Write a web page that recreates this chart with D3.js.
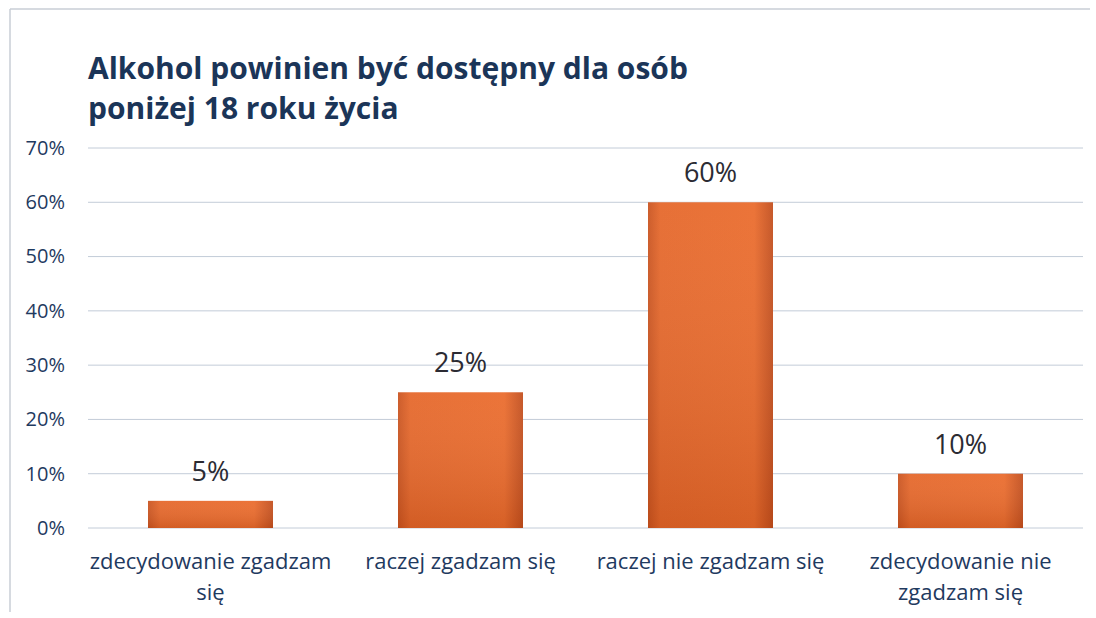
<!DOCTYPE html>
<meta charset="utf-8">
<style>
    body { margin: 0; background: #fff; }
    .grid line { stroke: #c3ccd8; stroke-width: 1; }
    .axis text { fill: #1f3a5f; font-family: "Open Sans", sans-serif; font-size: 20px; }
    .cat { fill: #1f3a5f; font-family: "Open Sans", sans-serif; font-size: 22px; }
    .val { fill: #2b2b33; font-family: "Open Sans", sans-serif; font-size: 27px; }
    .title { fill: #1b3558; font-family: "Open Sans", sans-serif; font-size: 30px; font-weight: bold; }
</style>
<body></body>
<script src="https://d3js.org/d3.v7.min.js"></script>
<script>
    // data
    var categories = ["zdecydowanie zgadzam się", "raczej zgadzam się", "raczej nie zgadzam się", "zdecydowanie nie zgadzam się"];
    var catLines = [["zdecydowanie zgadzam", "się"], ["raczej zgadzam się"], ["raczej nie zgadzam się"], ["zdecydowanie nie", "zgadzam się"]];
    var values = [5, 25, 60, 10];
    var yTicks = [0, 10, 20, 30, 40, 50, 60, 70];
    var titleLines = ["Alkohol powinien być dostępny dla osób", "poniżej 18 roku życia"];

    var W = 1096, H = 618;
    var margin = {top: 148, right: 13, bottom: 90, left: 88};
    var width = W - margin.left - margin.right,
        height = H - margin.top - margin.bottom;

    var svg = d3.select("body").append("svg")
        .attr("width", W)
        .attr("height", H);

    var defs = svg.append("defs");
    var grad = defs.append("linearGradient").attr("id", "barGrad")
        .attr("x1", 0).attr("y1", 0).attr("x2", 1).attr("y2", 0);
    grad.append("stop").attr("offset", "0%").attr("stop-color", "#c9531f");
    grad.append("stop").attr("offset", "10%").attr("stop-color", "#e5672a");
    grad.append("stop").attr("offset", "85%").attr("stop-color", "#ea6b2c");
    grad.append("stop").attr("offset", "100%").attr("stop-color", "#c24e1d");
    var shade = defs.append("linearGradient").attr("id", "barShade")
        .attr("x1", 0).attr("y1", 0).attr("x2", 0).attr("y2", 1);
    shade.append("stop").attr("offset", "0%").attr("stop-color", "#fff").attr("stop-opacity", 0.06);
    shade.append("stop").attr("offset", "100%").attr("stop-color", "#7a2a08").attr("stop-opacity", 0.18);

    // outer frame (partial, like the scanned chart)
    svg.append("line").attr("x1", 10).attr("x2", 1090).attr("y1", 9).attr("y2", 9)
        .attr("stroke", "#c9ced6").attr("stroke-width", 1.5);
    svg.append("line").attr("x1", 10).attr("x2", 10).attr("y1", 9).attr("y2", 612)
        .attr("stroke", "#c9ced6").attr("stroke-width", 1.5);

    // title
    svg.append("text").attr("class", "title")
        .attr("x", 88).attr("y", 59)
        .selectAll("tspan").data(titleLines).enter().append("tspan")
        .attr("x", 88)
        .attr("dy", function(d, i) { return i == 0 ? 20 : 40; })
        .text(function(d) { return d; });

    var g = svg.append("g")
        .attr("transform", "translate(" + margin.left + "," + margin.top + ")");

    var x = d3.scaleBand()
        .domain(categories)
        .range([0, width])
        .paddingInner(0.5)
        .paddingOuter(0.24);

    var y = d3.scaleLinear()
        .domain([0, 70])
        .range([height, 0]);

    // gridlines
    g.append("g").attr("class", "grid")
        .selectAll("line").data(yTicks).enter().append("line")
        .attr("x1", 0).attr("x2", width)
        .attr("y1", function(d) { return y(d); })
        .attr("y2", function(d) { return y(d); });

    // y axis labels
    var yAxis = g.append("g").attr("class", "axis")
        .call(d3.axisLeft(y).tickValues(yTicks).tickSize(0).tickPadding(23)
            .tickFormat(function(d) { return d + "%"; }));
    yAxis.select(".domain").remove();

    // bars
    var bars = g.selectAll(".bar")
        .data(values)
        .enter().append("g")
        .attr("class", "bar");
    bars.append("rect")
        .attr("x", function(d, i) { return x(categories[i]); })
        .attr("y", function(d) { return y(d); })
        .attr("width", x.bandwidth())
        .attr("height", function(d) { return height - y(d); })
        .attr("fill", "url(#barGrad)");
    bars.append("rect")
        .attr("x", function(d, i) { return x(categories[i]); })
        .attr("y", function(d) { return y(d); })
        .attr("width", x.bandwidth())
        .attr("height", function(d) { return height - y(d); })
        .attr("fill", "url(#barShade)");

    // value labels
    g.selectAll(".val")
        .data(values)
        .enter().append("text")
        .attr("class", "val")
        .attr("text-anchor", "middle")
        .attr("x", function(d, i) { return x(categories[i]) + x.bandwidth() / 2; })
        .attr("y", function(d) { return y(d) - 20; })
        .text(function(d) { return d + "%"; });

    // category labels
    var cats = g.selectAll(".cat")
        .data(categories)
        .enter().append("text")
        .attr("class", "cat")
        .attr("text-anchor", "middle")
        .attr("transform", function(d) { return "translate(" + (x(d) + x.bandwidth() / 2) + "," + (height + 41) + ")"; });
    cats.selectAll("tspan")
        .data(function(d, i) { return catLines[i]; })
        .enter().append("tspan")
        .attr("x", 0)
        .attr("dy", function(d, i) { return i == 0 ? 0 : 31; })
        .text(function(d) { return d; });
</script>
